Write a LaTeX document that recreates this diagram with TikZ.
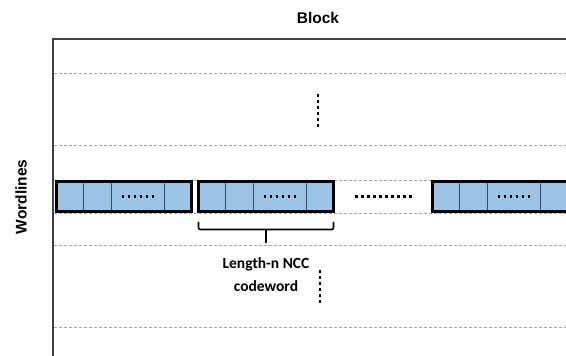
\documentclass[tikz,border=0pt]{standalone}
\usepackage{fontspec}
\setmainfont{Liberation Sans}
\newfontfamily\calibri{Carlito}
\usetikzlibrary{positioning}
\definecolor{cellblue}{HTML}{9DC3E6}
\definecolor{framegray}{HTML}{404040}
\definecolor{linegray}{HTML}{A6A6A6}
\definecolor{divgray}{HTML}{3C4B5A}

\begin{document}
\begin{tikzpicture}[x=1pt, y=-1pt,
  codeword/.style={rectangle, draw=black, line width=3.2pt, fill=cellblue, minimum width=135pt, minimum height=30pt, inner sep=0pt, outer sep=0pt},
  wordline/.style={draw=linegray, line width=0.9pt, dash pattern=on 3pt off 2pt},
  dots/.style={line width=2.8pt, dash pattern=on 2.8pt off 3.2pt},
  brace/.style={line width=1.6pt, line cap=round}]
  \useasboundingbox (0,0) rectangle (566,356);
  \clip (0,0) rectangle (566,356);
  % frame and titles
  \node[font=\fontsize{15.5}{18}\selectfont\bfseries] (block) at (318,18) {Block};
  \node[font=\fontsize{15.5}{18}\selectfont\bfseries, rotate=90] (wl) at (21,197) {Wordlines};
  \draw[framegray, line width=1.8pt] (53,356) -- (53,39) -- (566,39);
  % wordlines
  \foreach \y in {73,145,180,213,245,327}
    \draw[wordline] (54,\y) -- (566,\y);
  % codewords
  \node[codeword] (cw1) at (124,196.5) {};
  \node[codeword, right=7pt of cw1] (cw2) {};
  \node[codeword, right=99pt of cw2] (cw3) {};
  \foreach \cw in {cw1,cw2,cw3} {
    \foreach \d in {26.5,54.5,108}
      \draw[divgray, line width=0.8pt, shorten <=1.5pt, shorten >=1.5pt] ([xshift=\d pt]\cw.north west) -- ([xshift=\d pt]\cw.south west);
    \draw[dots] ([xshift=65pt]\cw.west) -- ([xshift=98pt]\cw.west);
  }
  \draw[dots] ([xshift=21.5pt]cw2.east) -- ([xshift=-20pt]cw3.west);
  % vertical dots
  \draw[dots] (318,94) -- (318,127);
  \draw[dots] (320,270) -- (320,303);
  % brace and label
  \draw[brace, rounded corners=2pt] ([yshift=-11pt]cw2.south west) -- ([yshift=-18pt]cw2.south west) -- ([yshift=-18pt]cw2.south east) -- ([yshift=-11pt]cw2.south east);
  \draw[brace] ([yshift=-18pt]cw2.south) -- ([yshift=-31pt]cw2.south) coordinate (tip);
  \node[font=\calibri\fontsize{15.5}{23}\selectfont\bfseries, align=center, inner sep=0pt, below=15pt of tip] (lbl) {Length-n NCC\\codeword};
\end{tikzpicture}
\end{document}
